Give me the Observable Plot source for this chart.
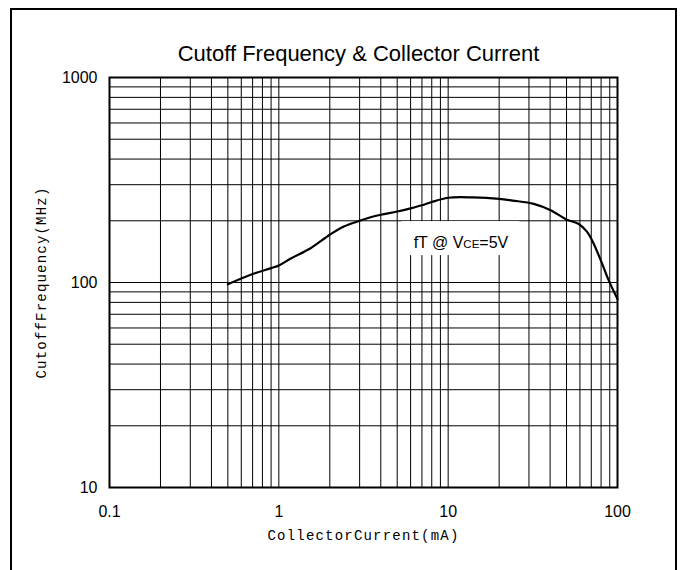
<!DOCTYPE html>
<html><head><meta charset="utf-8">
<script src="https://cdn.jsdelivr.net/npm/d3@7"></script>
<script src="https://cdn.jsdelivr.net/npm/@observablehq/plot@0.6"></script>
<style>
body{margin:0;background:#fff;}
#wrap{position:relative;width:682px;height:570px;overflow:hidden;background:#fff;}
#border{position:absolute;left:10px;top:8px;width:663px;height:600px;border:2px solid #000;pointer-events:none;}
</style></head><body>
<div id="wrap"><div id="chart"></div><div id="border"></div></div>
<script>
const collectorCurrent = [0.5, 0.7, 0.9, 1, 1.17, 1.54, 2, 2.42, 3, 3.48, 4, 5, 6, 7, 8, 10, 14, 20, 24, 32, 40, 50, 59, 66, 72, 81, 88.5, 100];
const cutoffFreq = [98, 110, 117.5, 121, 130.5, 147, 171, 187.5, 200, 208, 214, 222, 230, 238, 247, 259, 260, 256, 251, 242, 226, 203, 193, 177, 156, 124, 103, 83];
const xTickValues = [0.1, 1, 10, 100];
const yTickValues = [10, 100, 1000];
const mantissas = [1, 2, 3, 4, 5, 6, 7, 8, 9];
const xGrid = [0.1, 1, 10].flatMap(d => mantissas.map(m => +(d * m).toPrecision(3))).concat([100]);
const yGrid = [10, 100].flatMap(d => mantissas.map(m => d * m)).concat([1000]);
const title = "Cutoff Frequency & Collector Current";
const xLabel = "CollectorCurrent(mA)";
const yLabel = "CutoffFrequency(MHz)";
const note = [{x: 11.9, y: 148, text: "fT @ VCE=5V"}];

const data = collectorCurrent.map((x, i) => ({x, y: cutoffFreq[i]}));

const plot = Plot.plot({
  width: 682, height: 570,
  marginLeft: 109, marginRight: 65, marginTop: 77, marginBottom: 83,
  style: {fontFamily: "'Liberation Sans', Arial, sans-serif", fontSize: "16px", background: "transparent", color: "#000"},
  x: {type: "log", domain: [0.1, 100]},
  y: {type: "log", domain: [10, 1000]},
  marks: [
    Plot.ruleX(xGrid, {stroke: "#000", strokeWidth: 1}),
    Plot.ruleY(yGrid, {stroke: "#000", strokeWidth: 1}),
    Plot.rect(note, {x1: "x", x2: "x", y1: "y", y2: "y", fill: "white", insetLeft: -59, insetRight: -59, insetTop: -26, insetBottom: -8}),
    Plot.frame({stroke: "#000", strokeWidth: 2}),
    Plot.line(data, {x: "x", y: "y", stroke: "#000", strokeWidth: 2.2, curve: "catmull-rom"}),
    Plot.text(note, {x: "x", y: "y", text: "text", textAnchor: "middle", lineAnchor: "bottom", fontSize: 16, fill: "#000"}),
    Plot.axisX({ticks: xTickValues, tickSize: 0, tickPadding: 18, tickFormat: d => String(d), label: null, fontSize: 16}),
    Plot.axisY({ticks: yTickValues, tickSize: 0, tickPadding: 12, tickFormat: d => String(d), label: null, fontSize: 16}),
    Plot.text([title], {frameAnchor: "top", text: d => d, dy: -17, dx: -5, textAnchor: "middle", lineAnchor: "bottom", fontSize: 22, fill: "#000"}),
    Plot.text([xLabel], {frameAnchor: "bottom", text: d => d, dy: 48, textAnchor: "middle", lineAnchor: "middle", fontFamily: "'Liberation Mono', monospace", fontSize: 14, fill: "#000"}),
    Plot.text([yLabel], {frameAnchor: "left", text: d => d, dx: -68, rotate: -90, textAnchor: "middle", lineAnchor: "middle", fontFamily: "'Liberation Mono', monospace", fontSize: 14, fill: "#000"})
  ]
});
document.getElementById("chart").appendChild(plot);

const svg = d3.select(plot);
svg.selectAll("text").each(function() {
  const t = d3.select(this);
  const s = this.textContent;
  if (s === xLabel || s === yLabel) {
    t.attr("letter-spacing", "1.2px");
  }
  if (s === "fT @ VCE=5V") {
    t.text(null);
    t.append("tspan").text("fT @ V");
    t.append("tspan").attr("font-size", "11.5px").text("CE");
    t.append("tspan").text("=5V");
  }
});
</script>
</body></html>
